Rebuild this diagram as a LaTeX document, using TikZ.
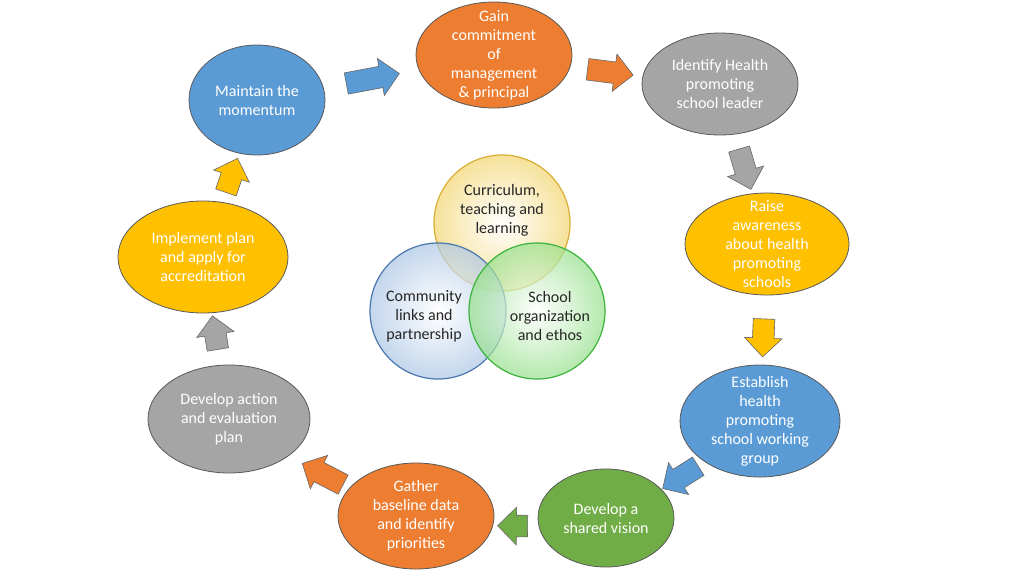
\documentclass[tikz,border=0pt]{standalone}
\usepackage{fontspec}
\setmainfont{Carlito}
\usetikzlibrary{shapes.geometric,shapes.arrows,calc}
\definecolor{hpblue}{HTML}{5B9BD5}
\definecolor{hporange}{HTML}{ED7D31}
\definecolor{hpgray}{HTML}{A5A5A5}
\definecolor{hpyellow}{HTML}{FFC000}
\definecolor{hpgreen}{HTML}{70AD47}
\definecolor{vennyellow}{HTML}{F4D670}
\definecolor{vennyellowline}{HTML}{D8AE34}
\definecolor{vennblue}{HTML}{ABC6E6}
\definecolor{vennblueline}{HTML}{4A77AD}
\definecolor{venngreen}{HTML}{96E08C}
\definecolor{venngreenline}{HTML}{3CB43C}
\tikzset{
  stage/.style={ellipse, draw=black!65, line width=0.8pt, inner sep=-12pt,
    text=white, align=center, font=\fontsize{16}{19}\selectfont},
  flowarrow/.style={single arrow, draw=black!60, line width=0.6pt,
    inner xsep=0pt, inner ysep=10.5pt, single arrow head extend=8pt,
    minimum height=#1},
  flowarrow/.default=44pt,
  venn/.style={circle, minimum size=136pt, inner sep=0pt, line width=1.2pt,
    fill opacity=0.7, shading=radial},
  venntext/.style={align=center, text=black!85, font=\fontsize{16}{19}\selectfont}
}
\begin{document}
\begin{tikzpicture}[x=1pt,y=-1pt]
    \fill[white] (0,0) rectangle (1024,576);
    %Cycle
    \node[stage, fill=hpblue, minimum width=136pt, minimum height=110pt] (maintain) at (257,100) {Maintain the\\momentum};
    \node[stage, fill=hporange, minimum width=156pt, minimum height=106pt] (gain) at (494,55) {Gain\\commitment\\of\\management\\\& principal};
    \node[stage, fill=hpgray, minimum width=156pt, minimum height=102pt] (identify) at (720,84) {Identify Health\\promoting\\school leader};
    \node[stage, fill=hpyellow, minimum width=164pt, minimum height=102pt] (raise) at (767,244) {Raise\\awareness\\about health\\promoting\\schools};
    \node[stage, fill=hpblue, minimum width=160pt, minimum height=112pt] (establish) at (760,421) {Establish\\health\\promoting\\school working\\group};
    \node[stage, fill=hpgreen, minimum width=136pt, minimum height=98pt] (vision) at (606,518) {Develop a\\shared vision};
    \node[stage, fill=hporange, minimum width=156pt, minimum height=106pt] (gather) at (416,516) {Gather\\baseline data\\and identify\\priorities};
    \node[stage, fill=hpgray, minimum width=162pt, minimum height=108pt] (action) at (229,419) {Develop action\\and evaluation\\plan};
    \node[stage, fill=hpyellow, minimum width=170pt, minimum height=112pt] (implement) at (203,257) {Implement plan\\and apply for\\accreditation};
    %Arrows
    \foreach \a/\b/\c/\len/\sx/\sy in {maintain/gain/hpblue/54pt/-8/2, gain/identify/hporange/46pt/-2/2,
        identify/raise/hpgray/42pt/0/0, raise/establish/hpyellow/38pt/0/0,
        establish/vision/hpblue/42pt/2/5, vision/gather/hpgreen/30pt/7/9,
        gather/action/hporange/46pt/5/9, action/implement/hpgray/34pt/0/0,
        implement/maintain/hpyellow/36pt/0/2}
      \path let \p1=(\a.center), \p2=(\b.center), \n1={atan2(\y2-\y1,\x2-\x1)} in
        node[flowarrow=\len, fill=\c, rotate=\n1] (arr-\a) at ($(\a)!0.5!(\b)+(\sx,\sy)$) {};
    %Venn
    \node[venn, draw=vennyellowline, inner color=white, outer color=vennyellow] (curr) at (502,223) {};
    \node[venn, draw=vennblueline, inner color=white, outer color=vennblue] (comm) at (438,311) {};
    \node[venn, draw=venngreenline, inner color=white, outer color=venngreen] (org) at (537,311) {};
    \node[venntext] (curr-text) at ([yshift=13pt]curr.center) {Curriculum,\\teaching and\\learning};
    \node[venntext] (comm-text) at ([xshift=-14pt,yshift=-5pt]comm.center) {Community\\links and\\partnership};
    \node[venntext] (org-text) at ([xshift=13pt,yshift=-5pt]org.center) {School\\organization\\and ethos};
\end{tikzpicture}
\end{document}
